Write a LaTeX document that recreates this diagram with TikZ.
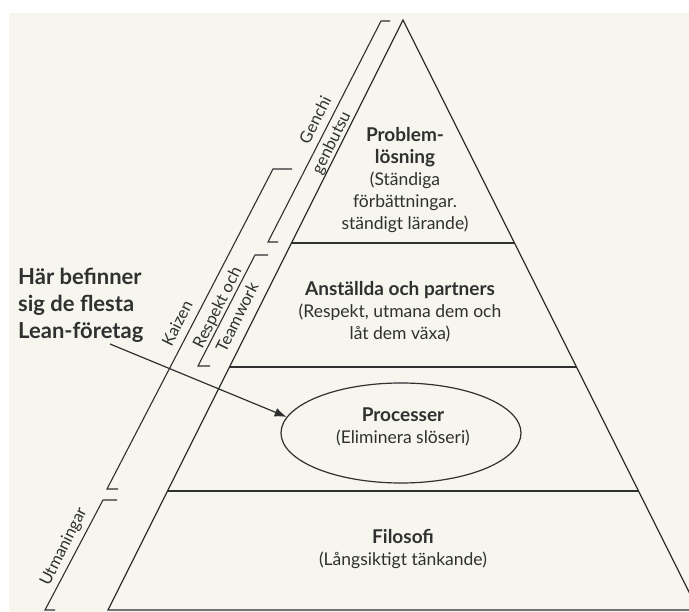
\documentclass[tikz,border=0pt]{standalone}
\usepackage{fontspec}
\setmainfont{Lato}
\usetikzlibrary{arrows.meta,shapes.geometric}

\definecolor{paper}{HTML}{F6F5EE}
\definecolor{ink}{HTML}{303030}

% bold tier heading, set a little larger than the body text
\newcommand\tierhead[1]{{\fontsize{19}{22}\selectfont\bfseries #1}}

\tikzset{
  edge/.style={draw=ink, line width=1.2pt, line join=miter},
  bracket/.style={draw=ink, line width=1.1pt},
  tier/.style={align=center, text=ink, inner sep=0pt,
    font=\fontsize{17.5}{22}\selectfont},
  sidelabel/.style={text=ink, inner sep=0pt, rotate=63.43,
    font=\fontsize{16.5}{18}\selectfont},
  note/.style={text=ink, inner sep=0pt, align=left,
    font=\bfseries\fontsize{22}{27}\selectfont},
  pointer/.style={draw=ink, line width=1.2pt,
    -{Latex[length=12pt,width=9pt]}}
}

\begin{document}
\begin{tikzpicture}[x=1pt,y=-1pt]
  % page and paper sheet
  \path[use as bounding box] (0,0) rectangle (689,612);
  \fill[white] (0,0) rectangle (689,612);
  \fill[paper] (9,13) rectangle (689,612);
  \clip (0,0) rectangle (689,612);

  % pyramid outline
  \coordinate (apex) at (403,20);
  \coordinate (bl)   at (108,610);
  \coordinate (br)   at (698,610);
  \draw[edge] (bl) -- (apex) -- (br) -- cycle;

  % tier dividers
  \coordinate (d1l) at (291.5,243); \coordinate (d1r) at (514.5,243);
  \coordinate (d2l) at (229.5,367); \coordinate (d2r) at (576.5,367);
  \coordinate (d3l) at (167.5,491); \coordinate (d3r) at (638.5,491);
  \draw[edge] (d1l) -- (d1r);
  \draw[edge] (d2l) -- (d2r);
  \draw[edge] (d3l) -- (d3r);

  % tier texts
  \node[tier] (top) at (405,180)
    {\tierhead{Problem-}\\\tierhead{lösning}\\(Ständiga\\förbättningar.\\ständigt lärande)};
  \node[tier] (people) at (400,312)
    {\tierhead{Anställda och partners}\\(Respekt, utmana dem och\\låt dem växa)};
  \node[ellipse, draw=ink, line width=1.2pt, minimum width=240pt,
        minimum height=100pt, inner sep=0pt] (proc) at (401,433) {};
  \node[tier] (proctext) at (403,427) {\tierhead{Processer}\\(Eliminera slöseri)};
  \node[tier] (base) at (403,549) {\tierhead{Filosofi}\\(Långsiktigt tänkande)};

  % side brackets
  \draw[bracket] (390,21) -- (381,21) -- (268,242) -- (278,242);
  \draw[bracket] (292,169) -- (273,169) -- (107,489) -- (118,489);
  \draw[bracket] (268,255) -- (255,255) -- (198,366) -- (210,366);
  \draw[bracket] (117,500) -- (103,500) -- (45,610) -- (55,610);

  % bracket labels
  \node[sidelabel] (genchi)  at (315,120) {Genchi};
  \node[sidelabel] (genbutsu) at (332,143) {genbutsu};
  \node[sidelabel] (kaizen)  at (177,323) {Kaizen};
  \node[sidelabel] (respekt) at (218,308) {Respekt och};
  \node[sidelabel] (teamwork) at (237,317) {Teamwork};
  \node[sidelabel] (utman)   at (64,547) {Utmaningar};

  % callout
  \node[note, anchor=west] (note) at (18,305)
    {Här befinner\\sig de flesta\\Lean-företag};
  \coordinate (notefoot) at (110,344);
  \draw[pointer] (notefoot) -- (proc.172);
\end{tikzpicture}
\end{document}
